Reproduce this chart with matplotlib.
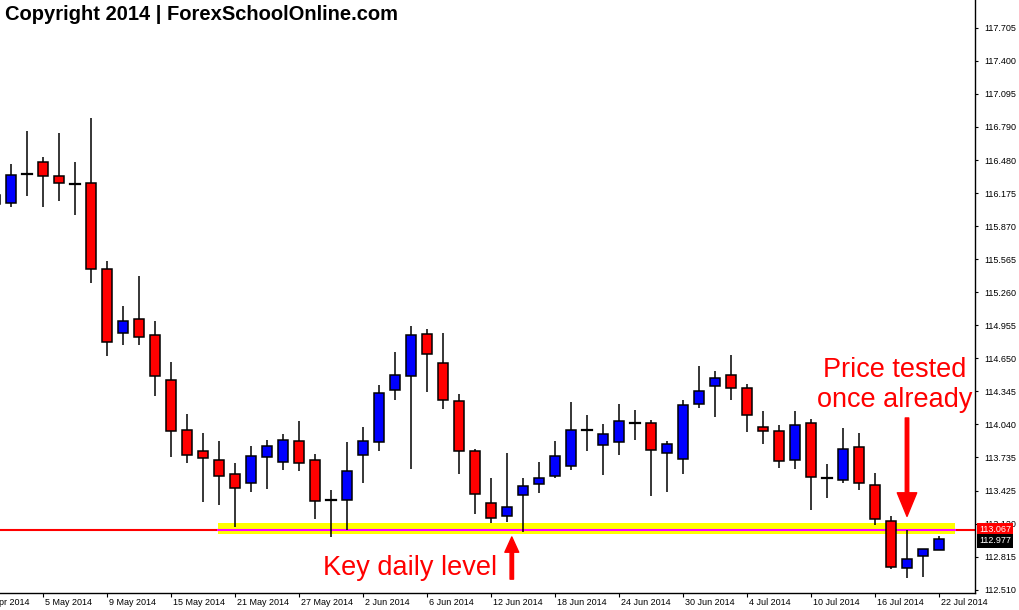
import matplotlib
matplotlib.use('Agg')
import matplotlib.pyplot as plt
from matplotlib.patches import Rectangle
import numpy as np
import pandas as pd

# daily USDJPY-style candles, 30 Apr 2014 .. 22 Jul 2014
dates = pd.bdate_range('2014-04-30', '2014-07-22')

opens = [116.161, 116.084, 116.355, 116.463, 116.333, 116.265, 116.269, 115.474, 114.882, 115.012,
         114.864, 114.448, 113.986, 113.792, 113.709, 113.579, 113.496, 113.736, 113.690, 113.884,
         113.709, 113.339, 113.339, 113.755, 113.875, 114.356, 114.491, 114.873, 114.605, 114.254,
         113.792, 113.311, 113.191, 113.385, 113.487, 113.561, 113.653, 113.991, 113.847, 113.875,
         114.056, 114.051, 113.773, 113.718, 114.226, 114.393, 114.494, 114.374, 114.014, 113.977,
         113.709, 114.051, 113.542, 113.524, 113.829, 113.478, 113.145, 112.711, 112.821, 112.877]
highs = [116.207, 116.447, 116.752, 116.512, 116.734, 116.466, 116.872, 115.548, 115.135, 115.412,
         114.996, 114.617, 114.137, 113.961, 113.887, 113.684, 113.841, 113.896, 113.952, 114.072,
         113.767, 113.434, 113.875, 114.016, 114.402, 114.710, 114.950, 114.922, 114.885, 114.319,
         113.810, 113.542, 113.776, 113.542, 113.690, 113.887, 114.247, 114.125, 114.044, 114.229,
         114.174, 114.081, 113.887, 114.266, 114.580, 114.534, 114.682, 114.414, 114.164, 114.032,
         114.164, 114.088, 113.672, 114.004, 113.958, 113.589, 113.191, 113.062, 112.886, 113.006]
lows = [116.040, 116.052, 116.154, 116.052, 116.108, 115.979, 115.350, 114.675, 114.777, 114.777,
        114.306, 113.742, 113.681, 113.326, 113.298, 113.092, 113.418, 113.446, 113.622, 113.613,
        113.169, 113.003, 113.062, 113.502, 113.797, 114.269, 113.631, 114.343, 114.186, 113.585,
        113.215, 113.132, 113.141, 113.049, 113.409, 113.548, 113.622, 113.797, 113.576, 113.760,
        113.899, 113.382, 113.418, 113.585, 114.195, 114.112, 114.269, 113.967, 113.857, 113.635,
        113.626, 113.252, 113.357, 113.496, 113.431, 113.108, 112.701, 112.618, 112.627, 112.877]
closes = [116.077, 116.343, 116.355, 116.333, 116.269, 116.265, 115.474, 114.799, 114.993, 114.845,
          114.485, 113.977, 113.755, 113.727, 113.561, 113.450, 113.746, 113.838, 113.894, 113.681,
          113.330, 113.339, 113.607, 113.884, 114.328, 114.494, 114.864, 114.688, 114.263, 113.792,
          113.394, 113.173, 113.274, 113.468, 113.542, 113.746, 113.986, 113.991, 113.949, 114.069,
          114.056, 113.801, 113.857, 114.217, 114.346, 114.467, 114.374, 114.125, 113.977, 113.699,
          114.032, 113.552, 113.542, 113.810, 113.496, 113.163, 112.720, 112.794, 112.886, 112.977]

price_ticks = [112.510, 112.815, 113.120, 113.425, 113.735, 114.040, 114.345, 114.650, 114.955,
               115.260, 115.565, 115.870, 116.175, 116.480, 116.790, 117.095, 117.400, 117.705]
date_ticks = ['2014-04-29', '2014-05-05', '2014-05-09', '2014-05-15', '2014-05-21', '2014-05-27',
              '2014-06-02', '2014-06-06', '2014-06-12', '2014-06-18', '2014-06-24', '2014-06-30',
              '2014-07-04', '2014-07-10', '2014-07-16', '2014-07-22']

key_level = 113.067
key_band = (113.030, 113.132)
last_price = 112.977

fig = plt.figure(figsize=(10.19, 6.10), dpi=100)
ax = fig.add_axes([0, 17 / 610, 975 / 1019, 593 / 610])
ax.set_xlim(0.3125, 61.25)
ax.set_ylim(112.482, 117.963)

x = np.arange(len(dates))
w = 0.625
for i in x:
    o, h, l, c = opens[i], highs[i], lows[i], closes[i]
    ax.plot([i, i], [l, h], color='black', lw=1.1, zorder=3, solid_capstyle='butt')
    if c == o:
        ax.plot([i - w / 2, i + w / 2], [o, o], color='black', lw=1.6, zorder=4)
    else:
        col = '#0000FF' if c > o else '#FF0000'
        ax.add_patch(Rectangle((i - w / 2, min(o, c)), w, abs(c - o), facecolor=col,
                               edgecolor='black', lw=1.1, zorder=4))

# key level: red line, yellow highlight with the line showing magenta inside it
ax.axhline(key_level, color='#FF0000', lw=1.5, zorder=1)
ax.add_patch(Rectangle((13.94, key_band[0]), 60.0 - 13.94, key_band[1] - key_band[0],
                       facecolor='#FFFF00', edgecolor='none', zorder=2))
ax.plot([13.94, 60.0], [key_level, key_level], color='#FF00FF', lw=1.5, zorder=2.5)

# axes styling like MT4
for s in ['left', 'top']:
    ax.spines[s].set_visible(False)
ax.spines['right'].set_linewidth(1.0)
ax.spines['bottom'].set_linewidth(1.0)
ax.yaxis.tick_right()
ax.set_yticks(price_ticks)
ax.set_yticklabels(['%.3f' % p for p in price_ticks], fontsize=6.5, family='Liberation Sans')
ax.tick_params(axis='y', length=2.5, width=0.8, pad=4)

tick_pos = [np.busday_count('2014-04-30', d) for d in date_ticks]
ax.set_xticks([p for p in tick_pos if p >= 0.3125])
ax.set_xticklabels([])
ax.tick_params(axis='x', length=3, width=0.8)
for p, d in zip(tick_pos, date_ticks):
    d = pd.Timestamp(d)
    ax.text(p + 0.12, -0.0155, '%d %s' % (d.day, d.strftime('%b %Y')), transform=ax.get_xaxis_transform(),
            ha='left', va='center', fontsize=6.5, family='Liberation Sans', clip_on=False)

# price boxes on the scale
ax.text(1.004, key_level, '%.3f' % key_level, transform=ax.get_yaxis_transform(), ha='left', va='center',
        fontsize=6.5, family='Liberation Sans', color='white', clip_on=False,
        bbox=dict(boxstyle='square,pad=0.25', fc='#FF0000', ec='none'))
ax.text(1.004, last_price - 0.012, '%.3f' % last_price, transform=ax.get_yaxis_transform(), ha='left',
        va='center', fontsize=6.5, family='Liberation Sans', color='white', clip_on=False,
        bbox=dict(boxstyle='square,pad=0.25', fc='black', ec='none'))

# annotations
fig.text(5 / 1019, 1 - 15 / 610, 'Copyright 2014 | ForexSchoolOnline.com', ha='left', va='center',
         fontsize=14.5, fontweight='bold', family='Liberation Sans')
ax.text(56.25, 114.40, 'Price tested\nonce already', ha='center', va='center', color='#FF0000',
        fontsize=19.5, family='Liberation Sans', linespacing=1.2)
ax.text(25.94, 112.713, 'Key daily level', ha='center', va='center', color='#FF0000',
        fontsize=19.5, family='Liberation Sans')
ax.annotate('', xy=(57.0, 113.19), xytext=(57.0, 114.10),
            arrowprops=dict(width=2.5, headwidth=14, headlength=17, color='#FF0000', shrink=0))
ax.annotate('', xy=(32.3, 113.00), xytext=(32.3, 112.61),
            arrowprops=dict(width=2.5, headwidth=10, headlength=11, color='#FF0000', shrink=0))

fig.savefig('out.png', dpi=100)
